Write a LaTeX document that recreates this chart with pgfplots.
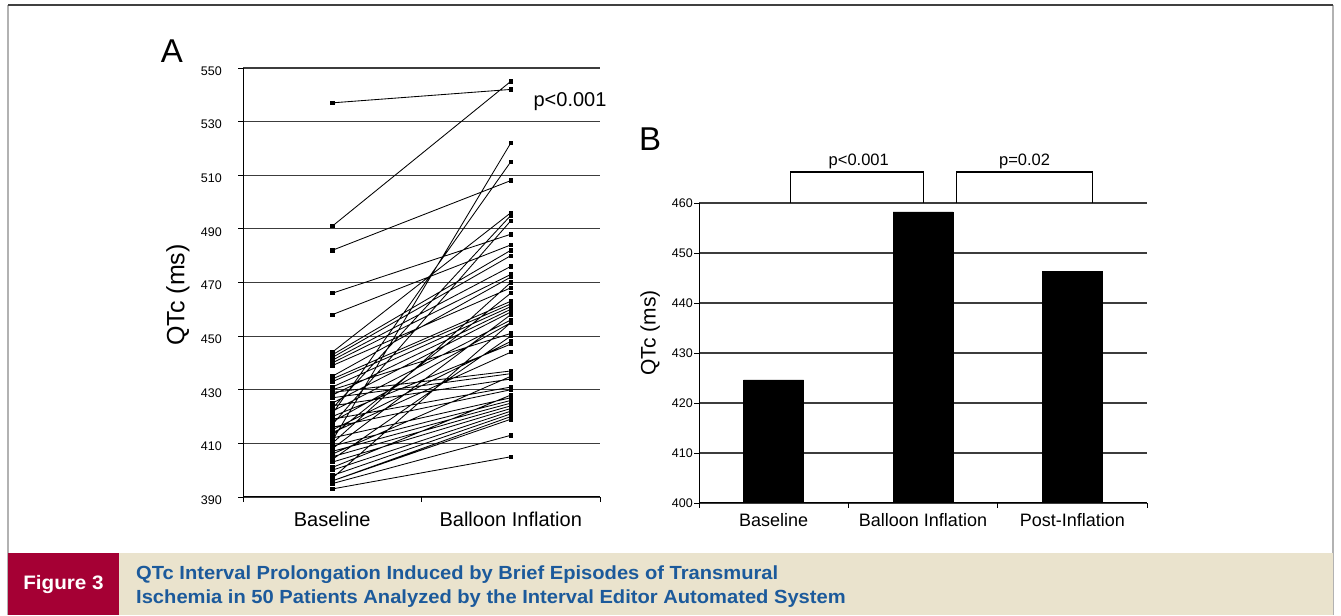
\documentclass[border=0pt]{standalone}
\usepackage{fontspec}
\setmainfont{Liberation Sans}
\newfontfamily\capfont[FakeStretch=1.06]{Liberation Sans}
\usepackage{pgfplots}
\pgfplotsset{compat=1.18}
\definecolor{capred}{RGB}{165,0,52}
\definecolor{capbeige}{RGB}{234,227,205}
\definecolor{capblue}{RGB}{28,90,155}
\definecolor{gridgray}{RGB}{60,60,60}

\pgfplotstableread{
x y
0.5 537
1.5 542
nan nan
0.5 491
1.5 545
nan nan
0.5 482
1.5 508
nan nan
0.5 466
1.5 488
nan nan
0.5 458
1.5 484
nan nan
0.5 444
1.5 496
nan nan
0.5 443
1.5 482
nan nan
0.5 442
1.5 480
nan nan
0.5 441
1.5 476
nan nan
0.5 440
1.5 473
nan nan
0.5 439
1.5 468
nan nan
0.5 435
1.5 472
nan nan
0.5 434
1.5 463
nan nan
0.5 433
1.5 462
nan nan
0.5 431
1.5 461
nan nan
0.5 430
1.5 451
nan nan
0.5 429
1.5 437
nan nan
0.5 428
1.5 460
nan nan
0.5 427
1.5 436
nan nan
0.5 425
1.5 459
nan nan
0.5 424
1.5 434
nan nan
0.5 423
1.5 495
nan nan
0.5 422
1.5 456
nan nan
0.5 421
1.5 515
nan nan
0.5 420
1.5 447
nan nan
0.5 419
1.5 431
nan nan
0.5 418
1.5 455
nan nan
0.5 417
1.5 493
nan nan
0.5 416
1.5 430
nan nan
0.5 415
1.5 448
nan nan
0.5 414
1.5 444
nan nan
0.5 413
1.5 466
nan nan
0.5 412
1.5 427
nan nan
0.5 411
1.5 522
nan nan
0.5 410
1.5 470
nan nan
0.5 409
1.5 426
nan nan
0.5 408
1.5 458
nan nan
0.5 407
1.5 425
nan nan
0.5 406
1.5 435
nan nan
0.5 405
1.5 424
nan nan
0.5 404
1.5 450
nan nan
0.5 403
1.5 423
nan nan
0.5 401
1.5 428
nan nan
0.5 400
1.5 422
nan nan
0.5 398
1.5 421
nan nan
0.5 397
1.5 455
nan nan
0.5 396
1.5 420
nan nan
0.5 396
1.5 419
nan nan
0.5 395
1.5 413
nan nan
0.5 393
1.5 405
}\pairs

\pgfplotstableread{
x y
0.5 424.6
1.5 458.2
2.5 446.3
}\means

\begin{document}
\begin{tikzpicture}[x=1pt,y=1pt]
\fill[white] (0,0) rectangle (1341,615);
% frame
\draw[gray!60, line width=1.5pt] (8,0) -- (8,610);
\draw[gray!60, line width=1.5pt] (1333,0) -- (1333,610);
\draw[black!75, line width=1.5pt] (8,610) -- (1333,610);

% ---------- Panel A ----------
\begin{axis}[
  at={(243pt,118pt)}, anchor=south west,
  scale only axis, width=357pt, height=429pt,
  xmin=0, xmax=2, ymin=390, ymax=550,
  axis lines=left, axis line style={-, black, line width=1pt},
  ytick={390,410,...,550},
  ymajorgrids, grid style={gridgray, line width=1.2pt},
  xtick={0,1,2}, xticklabels={},
  extra x ticks={0.5,1.5},
  extra x tick labels={Baseline,Balloon Inflation},
  extra x tick style={major tick length=0pt,
    ticklabel style={font=\fontsize{20}{24}\selectfont, anchor=base, yshift=-29pt}},
  tick align=outside, major tick length=5pt,
  tick style={black, line width=0.8pt},
  yticklabel style={font=\fontsize{12.5}{14}\selectfont, anchor=east, inner sep=0pt, xshift=-16pt, yshift=-3pt},
  /pgf/number format/assume math mode=true,
  ylabel={QTc (ms)},
  ylabel style={font=\fontsize{25}{30}\selectfont, at={(axis description cs:-0.182,0.471)}, anchor=center},
  unbounded coords=jump,
  clip mode=individual,
]
\addplot[black, line width=0.85pt, mark=square*, mark size=1.7pt] table[x=x,y=y] {\pairs};
\node[font=\fontsize{20}{24}\selectfont] at (axis cs:1.832,537.3) {p<0.001};
\end{axis}
\node[font=\fontsize{33}{36}\selectfont] at (172,564) {A};

% ---------- Panel B ----------
\begin{axis}[
  at={(699pt,112pt)}, anchor=south west,
  scale only axis, width=448pt, height=300pt,
  xmin=0, xmax=3, ymin=400, ymax=460,
  axis lines=left, axis line style={-, black, line width=1pt},
  ybar, bar width=60pt,
  ytick={400,410,...,460},
  ymajorgrids, grid style={gridgray, line width=1.2pt},
  xtick={0,1,2,3}, xticklabels={},
  extra x ticks={0.5,1.5,2.5},
  extra x tick labels={Baseline,Balloon Inflation,Post-Inflation},
  extra x tick style={major tick length=0pt,
    ticklabel style={font=\fontsize{18}{22}\selectfont, anchor=base, yshift=-24pt}},
  tick align=outside, major tick length=5pt,
  tick style={black, line width=0.8pt},
  yticklabel style={font=\fontsize{12.5}{14}\selectfont, anchor=east, inner sep=0pt, xshift=-1pt},
  /pgf/number format/assume math mode=true,
  ylabel={QTc (ms)},
  ylabel style={font=\fontsize{21}{25}\selectfont, at={(axis description cs:-0.109,0.567)}, anchor=center},
  clip mode=individual,
]
\addplot[fill=black, draw=black, bar shift=0pt] table[x=x,y=y] {\means};
\draw[black, line width=1.2pt] (axis cs:0.61,460) -- (axis cs:0.61,466.2) -- (axis cs:1.505,466.2) -- (axis cs:1.505,460);
\draw[black, line width=1.2pt] (axis cs:1.726,460) -- (axis cs:1.726,466.2) -- (axis cs:2.635,466.2) -- (axis cs:2.635,460);
\node[font=\fontsize{16.5}{20}\selectfont] at (axis cs:1.07,468.4) {p<0.001};
\node[font=\fontsize{16.5}{20}\selectfont] at (axis cs:2.18,468.4) {p=0.02};
\end{axis}
\node[font=\fontsize{33}{36}\selectfont] at (650,476) {B};

% ---------- Caption ----------
\fill[capbeige] (119,0) rectangle (1333,62);
\fill[capred] (8,0) rectangle (119,62);
\node[text=white, font=\capfont\bfseries\fontsize{19.5}{22}\selectfont] at (63.5,30) {Figure 3};
\node[anchor=base west, inner sep=0pt, text=capblue, font=\capfont\bfseries\fontsize{19}{22}\selectfont] at (136,35) {QTc Interval Prolongation Induced by Brief Episodes of Transmural};
\node[anchor=base west, inner sep=0pt, text=capblue, font=\capfont\bfseries\fontsize{19}{22}\selectfont] at (136,11) {Ischemia in 50 Patients Analyzed by the Interval Editor Automated System};
\end{tikzpicture}
\end{document}
